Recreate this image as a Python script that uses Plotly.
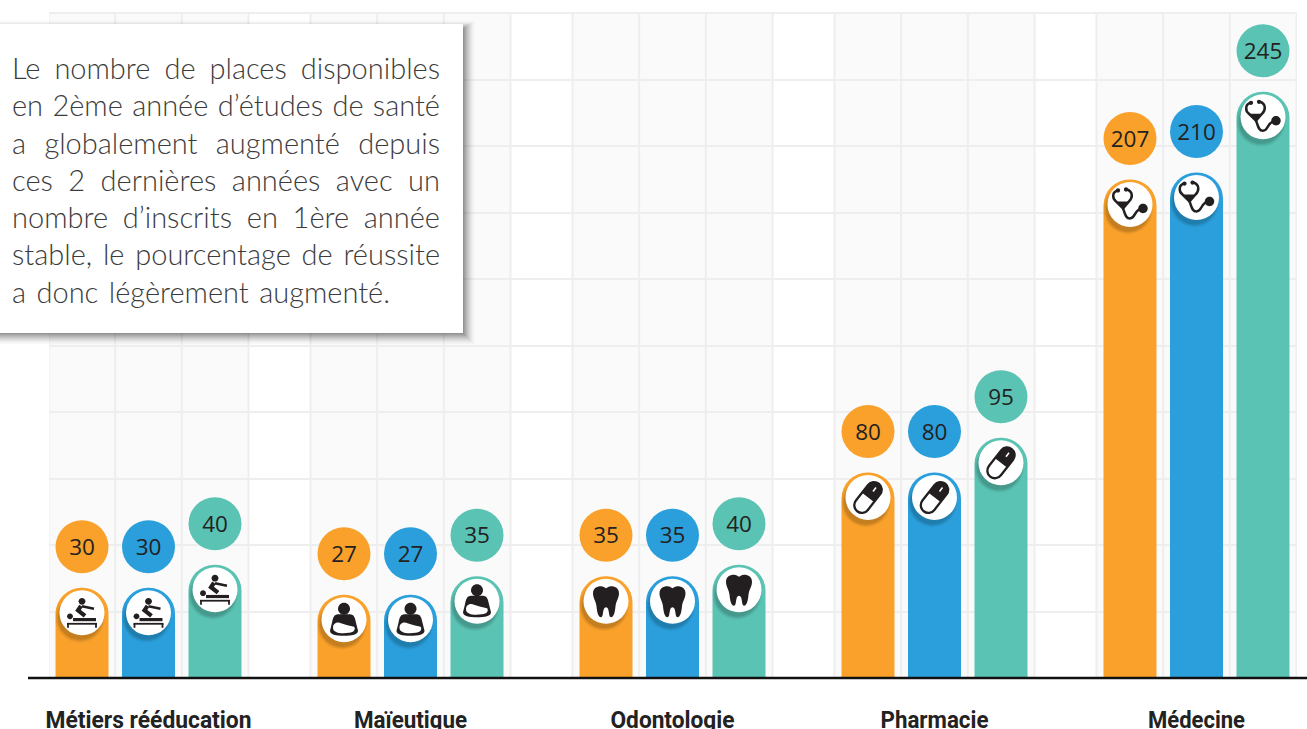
import json
import math
import re
import plotly.graph_objects as go

# ---------- data ----------
categories = ["Métiers rééducation", "Maïeutique", "Odontologie", "Pharmacie", "Médecine"]
series_orange = [30, 27, 35, 80, 207]
series_blue = [30, 27, 35, 80, 210]
series_teal = [40, 35, 40, 95, 245]
text_lines = [
    "Le nombre de places disponibles",
    "en 2ème année d’études de santé",
    "a globalement augmenté depuis",
    "ces 2 dernières années avec un",
    "nombre d’inscrits en 1ère année",
    "stable, le pourcentage de réussite",
    "a donc légèrement augmenté.",
]
line_widths = [428, 428, 428, 428, 428, 428, 378]
label_widths = [206, 113, 124, 108, 97]
colors = ["#F9A12B", "#2B9FDB", "#5AC3B3"]

# ---------- layout constants (pixels) ----------
W, H = 1307, 729
LEFT, RIGHT, TOP, BOTTOM = 49, 1297, 13, 678
PX_PER_GROUP = 262.0
PX_PER_UNIT = 2.307
BASE = -21 / PX_PER_UNIT
GRID_STEP = 66.5 / PX_PER_UNIT
CENTER0 = 148.5
BAR_W = 53
BAR_STEP = 66.5


def dx(px):
    return px / PX_PER_GROUP


def dy(px):
    return px / PX_PER_UNIT


def xp(px):
    return (px - LEFT) / (RIGHT - LEFT)


def yp(px):
    return (BOTTOM - px) / (BOTTOM - TOP)


# ---------- glyph helpers; written with y pointing down, flipped for plotly ----------
def flip(path):
    out, i = [], 0
    for tok in re.findall(r"[MLCZ]|-?\d+\.?\d*", path):
        if tok in "MLCZ":
            out.append(tok)
        else:
            v = float(tok)
            out.append(f"{v:.2f}" if i % 2 == 0 else f"{-v:.2f}")
            i += 1
    return " ".join(out)


def circle(cx, cy, r):
    k = 0.5523 * r
    return (
        f"M {cx-r} {cy} C {cx-r} {cy-k} {cx-k} {cy-r} {cx} {cy-r} "
        f"C {cx+k} {cy-r} {cx+r} {cy-k} {cx+r} {cy} "
        f"C {cx+r} {cy+k} {cx+k} {cy+r} {cx} {cy+r} "
        f"C {cx-k} {cy+r} {cx-r} {cy+k} {cx-r} {cy} Z"
    )


def rot(points, deg):
    a = math.radians(deg)
    return [(x * math.cos(a) - y * math.sin(a), x * math.sin(a) + y * math.cos(a)) for x, y in points]


def capsule(half, r, deg, part="all"):
    k = 0.5523 * r
    s = half - r
    top = [(-r, -s), (-r, -s - k), (-k, -half), (0, -half), (k, -half), (r, -s - k), (r, -s)]
    bot = [(r, s), (r, s + k), (k, half), (0, half), (-k, half), (-r, s + k), (-r, s)]
    if part == "top":
        pts = [(-r, 0)] + top + [(r, 0)]
        p = rot(pts, deg)
        cmds = f"M {p[0][0]:.2f} {p[0][1]:.2f} L {p[1][0]:.2f} {p[1][1]:.2f} "
        q = p[2:8]
        cmds += "C " + " ".join(f"{a:.2f} {b:.2f}" for a, b in q[:3]) + " "
        cmds += "C " + " ".join(f"{a:.2f} {b:.2f}" for a, b in q[3:6]) + " "
        cmds += f"L {p[8][0]:.2f} {p[8][1]:.2f} Z"
        return cmds
    p = rot(top + bot, deg)
    cmds = f"M {p[0][0]:.2f} {p[0][1]:.2f} "
    cmds += "C " + " ".join(f"{a:.2f} {b:.2f}" for a, b in p[1:4]) + " "
    cmds += "C " + " ".join(f"{a:.2f} {b:.2f}" for a, b in p[4:7]) + " "
    cmds += f"L {p[7][0]:.2f} {p[7][1]:.2f} "
    cmds += "C " + " ".join(f"{a:.2f} {b:.2f}" for a, b in p[8:11]) + " "
    cmds += "C " + " ".join(f"{a:.2f} {b:.2f}" for a, b in p[11:14]) + " Z"
    return cmds


INK = "#231F20"
# (path, filled colour or None, stroke width)
GLYPHS = {
    "massage": [
        (circle(0, -11.5, 3.4), INK, 0),
        (circle(-12, 3.5, 2.9), INK, 0),
        ("M -1 -7 L -4 -2.5 L 3 3", None, 4.2),
        ("M 0 -6.5 L 12 -4", None, 2.4),
        ("M -9 6.8 L 14 6.8", None, 3.2),
        ("M -15 11 L 15 11", None, 1.8),
        ("M -14 11 L -14 15", None, 1.8),
        ("M 14 11 L 14 15", None, 1.8),
    ],
    "baby": [
        (circle(0, -11, 6), INK, 0),
        ("M -6 -5.5 C -10 -5.5 -11 -2 -12 3 L -14 11 C -14 15 -8 16 0 16 C 8 16 14 15 14 11 "
         "L 12 3 C 11 -2 10 -5.5 6 -5.5 Z", INK, 0),
        ("M -11 8 C -11 3 -6 2 -3 3.5 C 1 5 6 6 10 7 C 12 9 10 13 5 13 C -1 14 -11 14 -11 8 Z", "#FFFFFF", 0),
    ],
    "tooth": [
        ("M -13 -8 C -13 -14 -8 -15 -5 -15 C -3 -15 -1 -13.5 0 -13 C 1 -13.5 3 -15 5 -15 C 8 -15 13 -14 13 -8 "
         "C 13 -3 10 0 9.5 5 C 9 10 8 16 5 16 C 2 16 4 6 0 6 C -4 6 -2 16 -5 16 C -8 16 -9 10 -9.5 5 "
         "C -10 0 -13 -3 -13 -8 Z", INK, 0),
    ],
    "pill": [
        (capsule(17.5, 7.6, 38, "top"), INK, 0),
        (capsule(17.5, 7.6, 38), None, 2.3),
        ("M 8 -10 L 5 -6", "#FFFFFF", 1.6),
    ],
    "stetho": [
        ("M -14 -3 L -7 4 L -1 -3 Z", INK, 0),
        ("M -12 -14 C -18 -13 -18 -6 -14 -3 L -7 4 L -1 -3 C 3 -7 3 -13 -3 -15", None, 2.5),
        ("M -7 4 C -5 8 -5 14 0 14 C 6 14 4 4 13 4", None, 2.5),
        (circle(-12, -14, 2.1), INK, 0),
        (circle(-4, -15, 2.1), INK, 0),
        (circle(13, 4, 4.7), INK, 0),
    ],
}
ICON_BY_GROUP = ["massage", "baby", "tooth", "pill", "stetho"]

# ---------- traces ----------
fig = go.Figure()
all_series = [series_orange, series_blue, series_teal]
offsets = [dx(-BAR_STEP), 0, dx(BAR_STEP)]
names = ["Série 1", "Série 2", "Série 3"]

for vals, off, col, name in zip(all_series, offsets, colors, names):
    xs = [i + off for i in range(len(vals))]
    # square foot of the column, between value 0 and the baseline
    fig.add_trace(go.Bar(
        x=xs, y=[BASE] * len(vals), width=dx(BAR_W), marker=dict(color=col, line=dict(width=0)),
        hoverinfo="skip", showlegend=False,
    ))
    fig.add_trace(go.Bar(
        x=xs, y=vals, width=dx(BAR_W), name=name,
        marker=dict(color=col, cornerradius=26, line=dict(width=0)), hoverinfo="skip", showlegend=False,
    ))

for vals, off, col, name in zip(all_series, offsets, colors, names):
    xs = [i + off for i in range(len(vals))]
    icon_y = [v - dy(25) for v in vals]
    # soft shadow under the icon disc
    for size, op in [(50, 0.03), (48, 0.05), (46, 0.06), (44, 0.08)]:
        fig.add_trace(go.Scatter(
            x=[x - dx(2) for x in xs], y=[y - dy(5) for y in icon_y], mode="markers",
            marker=dict(size=size, color="black", opacity=op, line=dict(width=0)),
            hoverinfo="skip", showlegend=False,
        ))
    fig.add_trace(go.Scatter(
        x=xs, y=icon_y, mode="markers",
        marker=dict(size=45, color="white", line=dict(width=0)), hoverinfo="skip", showlegend=False,
    ))
    fig.add_trace(go.Scatter(
        x=xs, y=[v + dy(41) for v in vals], mode="markers",
        marker=dict(size=53, color=col, line=dict(width=0)), hoverinfo="skip", showlegend=False,
    ))
    fig.add_trace(go.Scatter(
        x=xs, y=[v + dy(38.5) for v in vals], mode="text", text=[str(v) for v in vals],
        textposition="middle center", textfont=dict(family="Open Sans", size=22.5, color="#222222"),
        hoverinfo="skip", showlegend=False,
    ))

# ---------- shapes ----------
shapes = []
for i in range(len(categories)):
    c = i
    shapes.append(dict(type="rect", xref="x", yref="paper", x0=c - dx(100), x1=c + dx(100), y0=0, y1=1,
                       fillcolor="#FAFAFA", line=dict(width=0), layer="below"))
    for o in (-100, -33.3, 33.3, 100):
        shapes.append(dict(type="line", xref="x", yref="paper", x0=c + dx(o), x1=c + dx(o), y0=0, y1=1,
                           line=dict(color="#EEEEEE", width=2), layer="below"))
shapes.append(dict(type="line", xref="paper", yref="paper", x0=0, x1=1, y0=1, y1=1,
                   line=dict(color="#EEEEEE", width=2), layer="below"))

# baseline
shapes.append(dict(type="line", xref="paper", yref="paper", x0=xp(28), x1=xp(W), y0=0, y1=0,
                   line=dict(color="#111111", width=2.5), layer="above"))

# icons
for vals, off in zip(all_series, offsets):
    for i, v in enumerate(vals):
        for path, fill, lw in GLYPHS[ICON_BY_GROUP[i]]:
            shapes.append(dict(
                type="path", xref="x", yref="y", xsizemode="pixel", ysizemode="pixel",
                xanchor=i + off, yanchor=v - dy(25), path=flip(path),
                fillcolor=fill if fill else "rgba(0,0,0,0)",
                line=dict(color="#FFFFFF" if fill == "#FFFFFF" else INK, width=lw),
                layer="above",
            ))

# text box with soft shadow
BOX = (-6, 24, 463, 333)
for k in range(12):
    g = 12 - k
    shapes.append(dict(type="rect", xref="paper", yref="paper",
                       x0=xp(BOX[0]), x1=xp(BOX[2] + g),
                       y0=yp(BOX[3] + g), y1=yp(BOX[1] + 5 - g * 0.7),
                       fillcolor=f"rgba(0,0,0,{0.008 + 0.006 * k:.3f})", line=dict(width=0), layer="above"))
shapes.append(dict(type="rect", xref="paper", yref="paper", x0=xp(BOX[0]), x1=xp(BOX[2]),
                   y0=yp(BOX[3]), y1=yp(BOX[1]), fillcolor="white", line=dict(width=0), layer="above"))

# ---------- text box lines ----------
annotations = []
for n, line in enumerate(text_lines):
    annotations.append(dict(
        xref="paper", yref="paper", x=xp(10), y=yp(67.5 + n * 37.3), xanchor="left", yanchor="middle",
        text=line, showarrow=False, align="left",
        font=dict(family="Lato", size=29, color="#3C3C3C", weight=300),
    ))

fig.update_layout(
    width=W, height=H, margin=dict(l=LEFT, r=W - RIGHT, t=TOP, b=H - BOTTOM, autoexpand=False),
    paper_bgcolor="white", plot_bgcolor="white", showlegend=False, shapes=shapes, annotations=annotations,
    barmode="overlay",
    xaxis=dict(
        range=[(LEFT - CENTER0) / PX_PER_GROUP, (RIGHT - CENTER0) / PX_PER_GROUP],
        tickmode="array", tickvals=list(range(len(categories))), ticktext=categories,
        ticks="outside", ticklen=20, tickcolor="rgba(0,0,0,0)", showgrid=False, zeroline=False, showline=False,
        tickfont=dict(family="Roboto", size=24, color="#222222", weight=700),
        automargin=False, fixedrange=True, tickangle=0,
    ),
    yaxis=dict(
        range=[BASE, BASE + GRID_STEP * 10], tick0=BASE, dtick=GRID_STEP, showgrid=True,
        gridcolor="#EEEEEE", gridwidth=2, zeroline=False, showline=False, showticklabels=False,
        ticks="", automargin=False, fixedrange=True,
    ),
)

post = """
document.body.style.margin='0';
document.documentElement.style.overflow='hidden';
var gd=document.getElementById('{plot_id}');
var widths=%s, labels=%s;
gd.querySelectorAll('.annotation-text').forEach(function(t,i){
  var s=(t.textContent.match(/ /g)||[]).length;
  if(s>0){t.style.wordSpacing=((widths[i]-t.getComputedTextLength())/s)+'px';}
});
gd.querySelectorAll('.xtick text').forEach(function(t,i){
  t.setAttribute('textLength',labels[i]);
  t.setAttribute('lengthAdjust','spacingAndGlyphs');
});
""" % (json.dumps(line_widths), json.dumps(label_widths))

fig.write_html("out.html", config={"displayModeBar": False}, post_script=post)
